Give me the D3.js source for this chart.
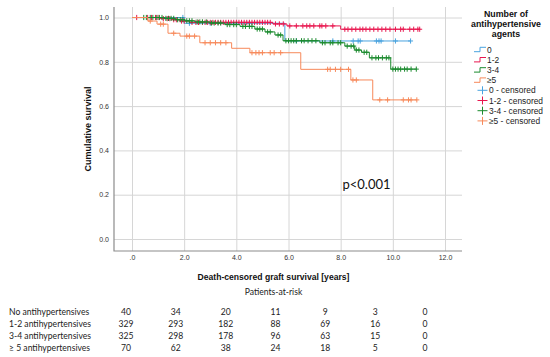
<!DOCTYPE html>
<html>
<head>
<meta charset="utf-8">
<script src="https://cdn.jsdelivr.net/npm/d3@7"></script>
<style>
  body { margin: 0; background: #fff; }
  svg { display: block; }
</style>
</head>
<body>
<svg id="chart" width="550" height="357"></svg>
<script>
// ---- data ----
var groupNames = ["0", "1-2", "3-4", "≥5"];
var groupColors = ["#4aa3df", "#e8174f", "#1b8a2e", "#f7895a"];

// [time, survival after step]
var steps0 = [[0, 1], [2.0, 0.974], [5.86, 0.894]];
var steps12 = [[0, 1], [1.07, 0.995], [1.53, 0.99], [1.84, 0.984], [2.2, 0.978], [5.4, 0.971], [5.94, 0.962], [8.0, 0.947]];
var steps34 = [[0, 1], [1.26, 0.996], [1.65, 0.99], [2.03, 0.985], [2.41, 0.98], [2.99, 0.975], [3.56, 0.968],
  [4.14, 0.96], [4.71, 0.948], [5.1, 0.935], [5.48, 0.921], [5.79, 0.895], [7.2, 0.886], [8.16, 0.871],
  [8.54, 0.853], [8.8, 0.843], [9.1, 0.818], [9.92, 0.767]];
var steps5 = [[0, 1], [0.61, 0.984], [0.96, 0.97], [1.38, 0.929], [1.84, 0.916], [2.6, 0.886], [3.82, 0.861],
  [4.52, 0.841], [6.47, 0.766], [8.39, 0.718], [9.23, 0.628]];

// censored times
var censor0 = [1.95, 2.2, 3.0, 4.5, 6.3, 7.7, 8.48, 8.67, 8.75, 9.37, 9.47, 9.55, 10.1, 10.68];
var censor12 = [0.18, 0.6, 0.75, 0.9, 1.0, 1.2, 1.35, 1.45, 1.6, 1.7, 1.9, 2.0,
  2.3, 2.45, 2.55, 2.7, 2.8, 2.9, 3.0, 3.1, 3.2, 3.3, 3.4, 3.5, 3.6, 3.7, 3.8, 3.9, 4.0, 4.1, 4.2, 4.3,
  4.4, 4.5, 4.6, 4.7, 4.8, 4.9, 5.0, 5.1, 5.2, 5.3, 5.5, 5.65, 5.8,
  6.05, 6.3, 6.55, 6.7, 6.82, 6.97, 7.2, 7.28, 7.43, 7.7,
  8.16, 8.28, 8.43, 8.58, 8.74, 8.85, 8.97, 9.12, 9.27, 9.43, 9.58, 9.73, 9.89, 10.1, 10.3, 10.4, 10.65, 10.8, 10.96, 11.03];
var censor34 = [0.45, 0.55, 0.7, 0.8, 0.95, 1.05, 1.15, 1.3, 1.4, 1.5, 1.6, 1.75, 1.85, 1.95, 2.1, 2.2, 2.3,
  2.5, 2.6, 2.7, 2.85, 3.05, 3.15, 3.3, 3.4, 3.65, 3.75, 3.9, 4.0, 4.25, 4.35, 4.5, 4.6, 4.8, 4.9, 5.0,
  5.2, 5.3, 5.6, 5.7, 5.9, 6.0, 6.1, 6.2, 6.3, 6.5, 6.6, 6.75, 6.9, 7.05, 7.3, 7.4, 7.6, 7.7, 7.9, 8.0,
  8.25, 8.4, 8.5, 8.6, 8.7, 8.9, 9.0, 9.2, 9.35, 9.45, 9.6, 9.75, 9.85,
  10.0, 10.1, 10.2, 10.3, 10.45, 10.55, 10.7, 10.9];
var censor5 = [0.7, 1.1, 1.2, 1.6, 2.1, 2.2, 2.4, 2.8, 3.0, 3.2, 3.4, 3.6, 4.6, 4.75, 4.87, 5.0, 5.3, 5.45, 5.7,
  7.5, 7.6, 7.8, 8.0, 8.3, 8.47, 8.6, 9.5, 9.8, 10.4, 10.6, 10.7, 10.92];

var xTicks = [0, 2, 4, 6, 8, 10, 12];
var yTicks = [0, 0.2, 0.4, 0.6, 0.8, 1.0];

var riskTimes = [0, 2, 4, 6, 8, 10, 12];
var riskLabels = ["No antihypertensives", "1-2 antihypertensives", "3-4 antihypertensives", "≥ 5 antihypertensives"];
var riskNo = [40, 34, 20, 11, 9, 3, 0];
var risk12 = [329, 293, 182, 88, 69, 16, 0];
var risk34 = [325, 298, 178, 96, 63, 15, 0];
var risk5 = [70, 62, 38, 24, 18, 5, 0];

var legendLabels = ["0", "1-2", "3-4", "≥5", "0 - censored", "1-2 - censored", "3-4 - censored", "≥5 - censored"];

// ---- chart ----
var svg = d3.select("#chart");
var plotLeft = 114, plotRight = 462, plotTop = 7, plotBottom = 251;

var x = d3.scaleLinear().domain([0, 12]).range([132, 445]);
var y = d3.scaleLinear().domain([0, 1]).range([239, 17.5]);

var tickFont = "Liberation Sans, Arial, sans-serif";

// gridlines
svg.append("g")
    .attr("transform", "translate(0," + plotTop + ")")
    .call(d3.axisTop(x).tickValues(xTicks).tickSize(-(plotBottom - plotTop)).tickFormat(""))
    .call(function (g) { g.select(".domain").remove(); })
    .selectAll("line").attr("stroke", "#d6d6d6");

svg.append("g")
    .attr("transform", "translate(" + plotLeft + ",0)")
    .call(d3.axisLeft(y).tickValues(yTicks).tickSize(-(plotRight - plotLeft)).tickFormat(""))
    .call(function (g) { g.select(".domain").remove(); })
    .selectAll("line").attr("stroke", "#d6d6d6");

// axis lines
svg.append("path")
    .attr("d", "M" + plotLeft + "," + plotTop + "V" + plotBottom + "H" + plotRight)
    .attr("fill", "none")
    .attr("stroke", "#8c8c8c")
    .attr("stroke-width", 1.2);

// tick labels
var xAxis = svg.append("g")
    .attr("transform", "translate(0," + plotBottom + ")")
    .call(d3.axisBottom(x).tickValues(xTicks).tickSize(0).tickPadding(4)
        .tickFormat(function (d) { return d === 0 ? ".0" : d.toFixed(1); }));
xAxis.select(".domain").remove();
xAxis.selectAll("text").attr("font-family", tickFont).attr("font-size", 7).attr("fill", "#333");

var yAxis = svg.append("g")
    .attr("transform", "translate(" + (plotLeft - 5) + ",0)")
    .call(d3.axisLeft(y).tickValues(yTicks).tickSize(0).tickPadding(0)
        .tickFormat(d3.format(".1f")));
yAxis.select(".domain").remove();
yAxis.selectAll("text").attr("font-family", tickFont).attr("font-size", 7).attr("fill", "#333");

// axis titles
svg.append("text")
    .attr("transform", "translate(91,129) rotate(-90)")
    .attr("text-anchor", "middle")
    .attr("font-family", tickFont)
    .attr("font-weight", "bold")
    .attr("font-size", 9)
    .attr("fill", "#111")
    .text("Cumulative survival");

svg.append("text")
    .attr("x", 273.5).attr("y", 280)
    .attr("text-anchor", "middle")
    .attr("font-family", tickFont)
    .attr("font-weight", "bold")
    .attr("font-size", 8.6)
    .attr("fill", "#111")
    .text("Death-censored graft survival [years]");

// curves
var stepsAll = [steps0, steps12, steps34, steps5];
var censorAll = [censor0, censor12, censor34, censor5];

function survAt(steps, t) {
    var s = 1;
    steps.forEach(function (p) { if (p[0] <= t) s = p[1]; });
    return s;
}

var line = d3.line()
    .x(function (d) { return x(d[0]); })
    .y(function (d) { return y(d[1]); })
    .curve(d3.curveStepAfter);

var crossPath = "M-2.5,0H2.5M0,-2.6V2.6";

[0, 1, 2, 3].forEach(function (i) {
    var steps = stepsAll[i], cens = censorAll[i];
    var end = d3.max(cens);
    var pts = steps.concat([[end, steps[steps.length - 1][1]]]);
    var g = svg.append("g");
    g.append("path")
        .attr("d", line(pts))
        .attr("fill", "none")
        .attr("stroke", groupColors[i])
        .attr("stroke-width", 1);
    g.selectAll(".cens")
        .data(cens)
        .enter().append("path")
        .attr("transform", function (t) { return "translate(" + x(t) + "," + y(survAt(steps, t)) + ")"; })
        .attr("d", crossPath)
        .attr("fill", "none")
        .attr("stroke", groupColors[i])
        .attr("stroke-width", 1);
});

// p value
svg.append("text")
    .attr("x", 342.5).attr("y", 188.5)
    .attr("font-family", "Lato, sans-serif")
    .attr("font-size", 13)
    .attr("fill", "#111")
    .text("p<0.001");

// legend
var legendTitle = ["Number of", "antihypertensive", "agents"];
svg.append("g").selectAll("text")
    .data(legendTitle).enter().append("text")
    .attr("x", 506)
    .attr("y", function (d, i) { return 17 + i * 10; })
    .attr("text-anchor", "middle")
    .attr("font-family", tickFont)
    .attr("font-weight", "bold")
    .attr("font-size", 8.8)
    .attr("fill", "#111")
    .text(function (d) { return d; });

var legend = svg.append("g").selectAll("g")
    .data(legendLabels).enter().append("g")
    .attr("transform", function (d, i) { return "translate(0," + (49.5 + i * 10.2) + ")"; });

legend.append("path")
    .attr("d", function (d, i) { return i < 4 ? "M474,2.2H480V-2.2H486" : "M477.5,0H487.5M482.5,-4V4"; })
    .attr("fill", "none")
    .attr("stroke", function (d, i) { return groupColors[i % 4]; })
    .attr("stroke-width", 1);

legend.append("text")
    .attr("x", function (d, i) { return i < 4 ? 487 : 489; })
    .attr("y", 3)
    .attr("font-family", tickFont)
    .attr("font-size", 8.4)
    .attr("fill", "#222")
    .text(function (d) { return d; });

// patients at risk table
var tableFont = "Lato, 'Open Sans', sans-serif";
svg.append("text")
    .attr("x", 273.5).attr("y", 295)
    .attr("text-anchor", "middle")
    .attr("font-family", tableFont)
    .attr("font-size", 8.6)
    .attr("fill", "#222")
    .text("Patients-at-risk");

var xr = d3.scaleLinear().domain([0, 12]).range([126, 425]);
var riskRows = [riskNo, risk12, risk34, risk5];

var rows = svg.append("g").selectAll("g")
    .data(riskRows).enter().append("g")
    .attr("transform", function (d, i) { return "translate(0," + (315.3 + i * 11.8) + ")"; });

rows.append("text")
    .attr("x", 9)
    .attr("font-family", tableFont)
    .attr("font-size", 8.6)
    .attr("fill", "#222")
    .text(function (d, i) { return riskLabels[i]; });

rows.selectAll(".n")
    .data(function (d) { return d; })
    .enter().append("text")
    .attr("x", function (d, j) { return xr(riskTimes[j]); })
    .attr("text-anchor", "middle")
    .attr("font-family", tableFont)
    .attr("font-size", 8.6)
    .attr("fill", "#222")
    .text(function (d) { return d; });
</script>
</body>
</html>
